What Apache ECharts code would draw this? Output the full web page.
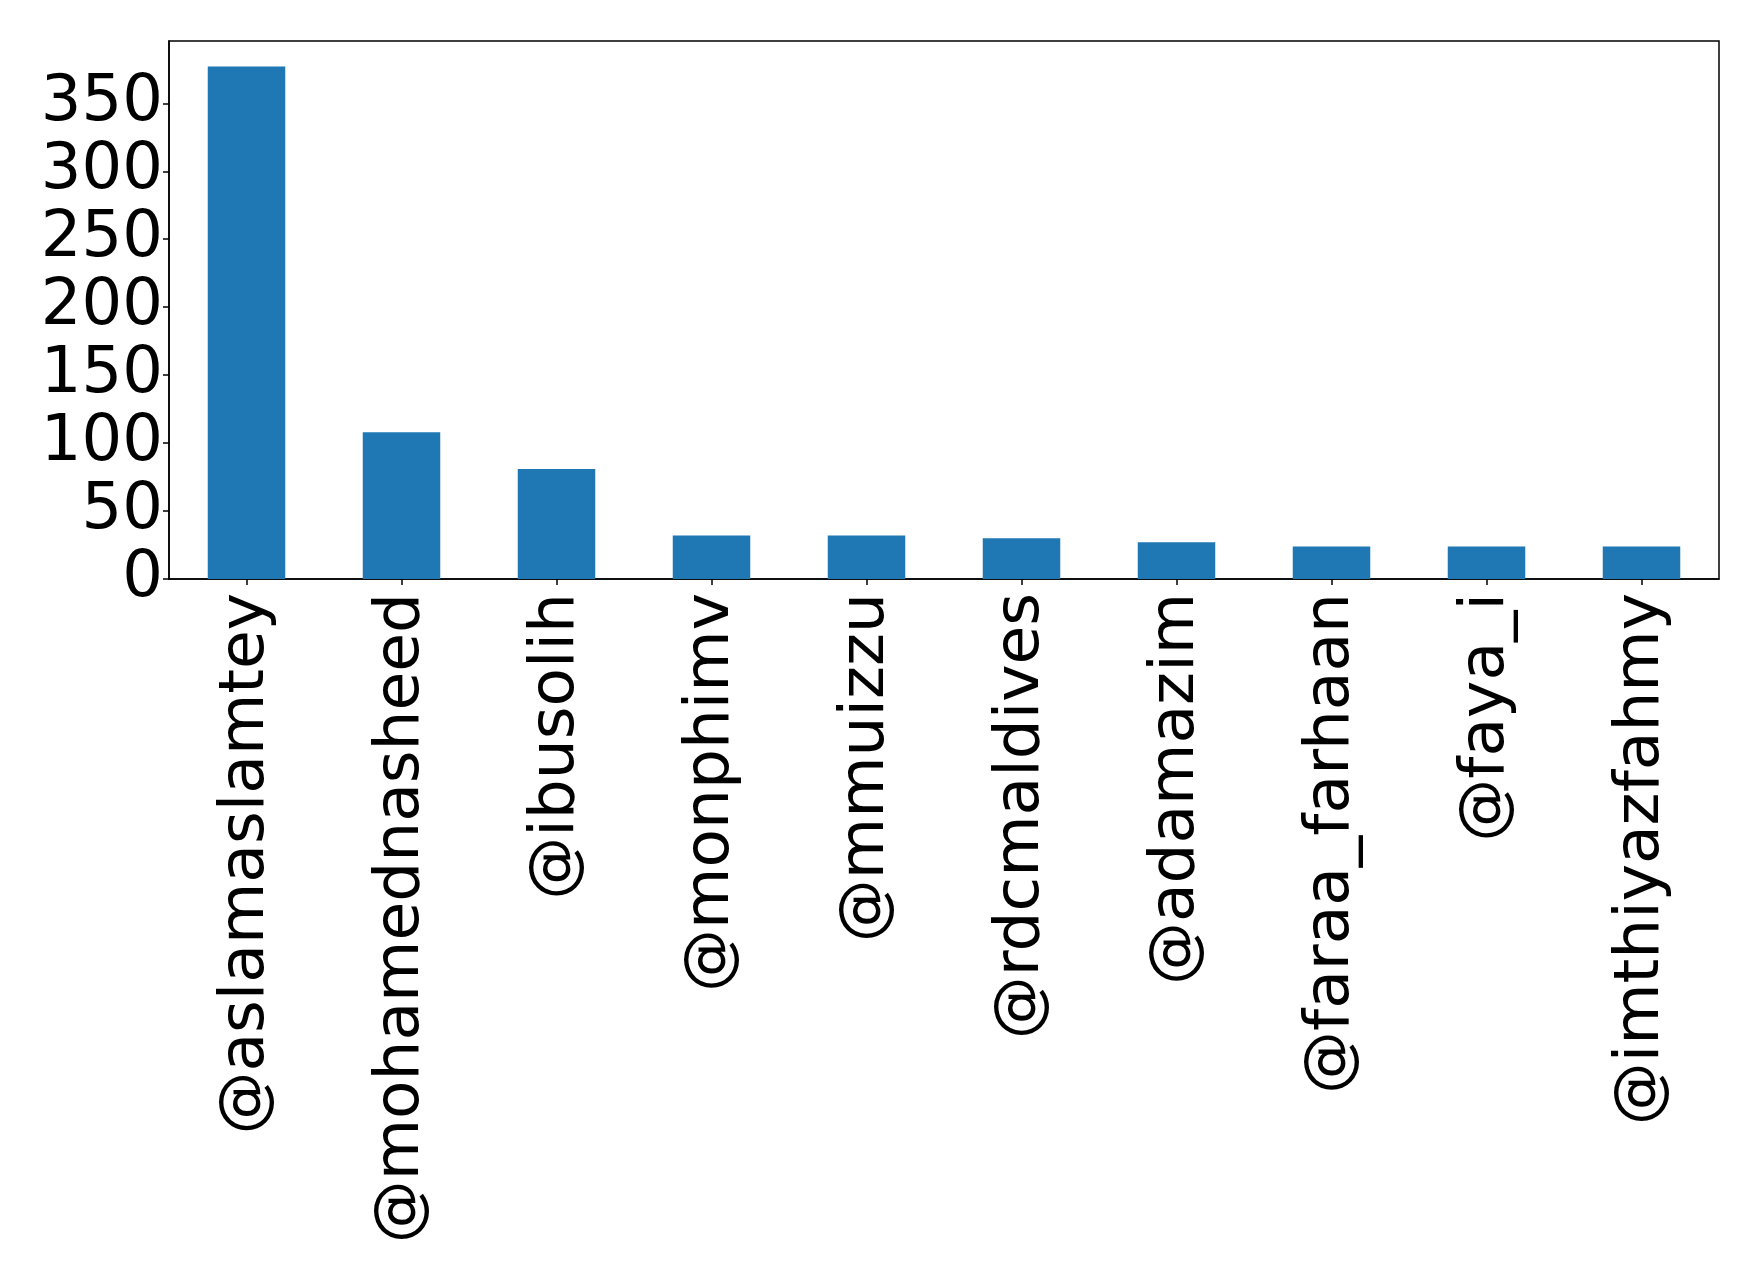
<!DOCTYPE html>
<html>
<head>
<meta charset="utf-8">
<script src="https://cdn.jsdelivr.net/npm/echarts@6/dist/echarts.min.js"></script>
<style>
html,body{margin:0;padding:0;background:#fff;}
#chart{width:1759px;height:1273px;}
</style>
</head>
<body>
<div id="chart"></div>
<script>
const categories = ['@aslamaslamtey','@mohamednasheed','@ibusolih','@monphimv','@mmuizzu','@rdcmaldives','@adamazim','@faraa_farhaan','@faya_i','@imthiyazfahmy'];
const values = [377, 108, 81, 32, 32, 30, 27, 24, 24, 24];
const yTicks = [0, 50, 100, 150, 200, 250, 300, 350];

const chart = echarts.init(document.getElementById('chart'), null, {renderer:'canvas'});
const font = 'DejaVu Sans';
chart.setOption({
  animation: false,
  backgroundColor: '#ffffff',
  grid: {
    left: 169, right: 40, top: 41, bottom: 694,
    show: true, borderColor: '#000', borderWidth: 1.5, backgroundColor: 'transparent'
  },
  xAxis: {
    type: 'category',
    data: categories,
    boundaryGap: true,
    axisLine: {show: true, lineStyle: {color: '#000', width: 1.5}},
    axisTick: {show: true, alignWithLabel: true, length: 6, lineStyle: {color: '#000', width: 1.5}},
    axisLabel: {rotate: 90, margin: 14, fontFamily: font, fontSize: 63, color: '#000', interval: 0},
    splitLine: {show: false}
  },
  yAxis: {
    type: 'value',
    min: 0,
    max: 395.85,
    interval: 50,
    axisLine: {show: true, lineStyle: {color: '#000', width: 1.5}},
    axisTick: {show: true, length: 6, lineStyle: {color: '#000', width: 1.5}},
    axisLabel: {
      margin: 6, fontFamily: font, fontSize: 64, color: '#000',
      showMaxLabel: false,
      formatter: function(v){ return yTicks.indexOf(v) >= 0 ? String(v) : ''; }
    },
    splitLine: {show: false}
  },
  series: [{
    type: 'bar',
    data: values,
    barWidth: '50%',
    itemStyle: {color: '#1f77b4'}
  }]
});
</script>
</body>
</html>
